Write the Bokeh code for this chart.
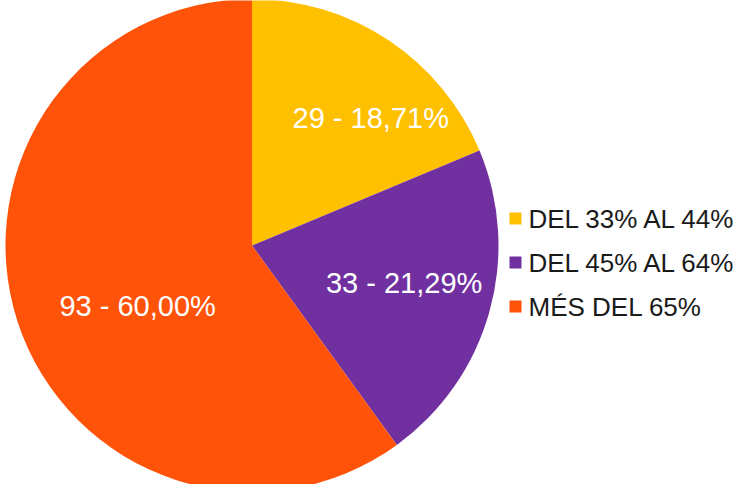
import math
from bokeh.plotting import figure
from bokeh.models import Range1d, ColumnDataSource
from bokeh.core.properties import value
from bokeh.embed import file_html
from bokeh.resources import INLINE

categories = ["DEL 33% AL 44%", "DEL 45% AL 64%", "MÉS DEL 65%"]
counts = [29, 33, 93]
percent_labels = ["18,71%", "21,29%", "60,00%"]
colors = ["#FFC000", "#7030A0", "#FF5309"]

W, H = 735, 484
cx, cy, R = 251.5, 239, 246.5
label_frac = 0.62
label_nudge = [(34, 0), (5, 4), (31, -13)]

total = sum(counts)
starts, ends, lx, ly, texts = [], [], [], [], []
a = math.pi / 2
for i, c in enumerate(counts):
    sweep = 2 * math.pi * c / total
    starts.append(a - sweep)
    ends.append(a)
    mid = a - sweep / 2
    lx.append(cx + label_frac * R * math.cos(mid) + label_nudge[i][0])
    ly.append(cy + label_frac * R * math.sin(mid) + label_nudge[i][1])
    texts.append(f"{c} - {percent_labels[i]}")
    a -= sweep

p = figure(width=W, height=H, x_range=Range1d(0, W), y_range=Range1d(0, H),
           output_backend="svg", toolbar_location=None, min_border=0)
p.axis.visible = False
p.grid.visible = False
p.outline_line_color = None
p.background_fill_color = "white"

src = ColumnDataSource(dict(start=starts, end=ends, color=colors))
p.wedge(x=cx, y=cy, radius=R, start_angle="start", end_angle="end",
        fill_color="color", line_color=None, source=src)

p.text(x=lx, y=ly, text=texts, text_color="white", text_font=value("Liberation Sans"),
       text_font_size="29px", text_align="center", text_baseline="middle")

leg_x, leg_y0, leg_dy = 515, 266, 44
ys = [leg_y0 - i * leg_dy for i in range(len(categories))]
p.rect(x=[leg_x] * len(categories), y=ys, width=12, height=12,
       fill_color=colors, line_color=None)
p.text(x=[leg_x + 13] * len(categories), y=ys, text=categories, text_color="#1a1a1a",
       text_font=value("Liberation Sans"), text_font_size="26px",
       text_align="left", text_baseline="middle")

open("out.html", "w").write(file_html(p, INLINE))
